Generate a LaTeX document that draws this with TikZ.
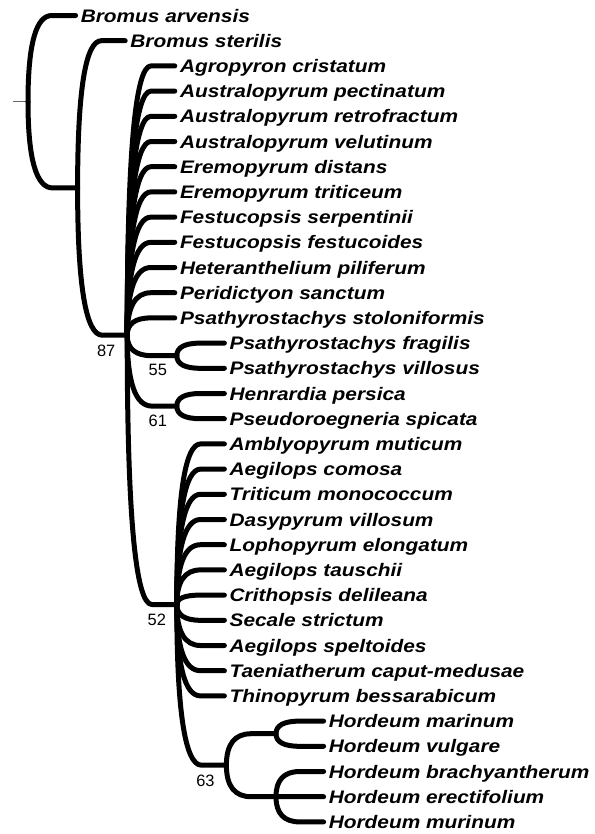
\documentclass[tikz,border=0pt]{standalone}
\usepackage{fontspec}
\usetikzlibrary{calc}
\newfontfamily\taxfont{Liberation Sans}[FakeStretch=1.15]
\newfontfamily\bsfont{Liberation Sans}
\newcommand\treeedge[2]{\draw[brline] (#1) .. controls ($(#1)!0.6667!(#1|-#2)$) and ($(#1|-#2)!0.1667!(#2)$) .. ($(#1|-#2)!0.5!(#2)$) -- (#2);}
\begin{document}
\begin{tikzpicture}[x=1bp,y=-1bp,
  brline/.style={line width=5bp,line cap=round,line join=round,black},
  taxon/.style={anchor=west,inner xsep=5bp,inner ysep=0pt,text height=13bp,text depth=0pt,
    font=\taxfont\bfseries\itshape\fontsize{18.2}{20}\selectfont},
  bsl/.style={inner sep=0pt,font=\bsfont\fontsize{16.5}{18}\selectfont}]
\useasboundingbox (0,0) rectangle (595,834);
% leaves
\foreach \i/\L/\nm in {0/1/Bromus arvensis,1/2/Bromus sterilis,2/3/Agropyron cristatum,
  3/3/Australopyrum pectinatum,4/3/Australopyrum retrofractum,5/3/Australopyrum velutinum,
  6/3/Eremopyrum distans,7/3/Eremopyrum triticeum,8/3/Festucopsis serpentinii,
  9/3/Festucopsis festucoides,10/3/Heteranthelium piliferum,11/3/Peridictyon sanctum,
  12/3/Psathyrostachys stoloniformis,13/4/Psathyrostachys fragilis,14/4/Psathyrostachys villosus,
  15/4/Henrardia persica,16/4/Pseudoroegneria spicata,17/4/Amblyopyrum muticum,
  18/4/Aegilops comosa,19/4/Triticum monococcum,20/4/Dasypyrum villosum,
  21/4/Lophopyrum elongatum,22/4/Aegilops tauschii,23/4/Crithopsis delileana,
  24/4/Secale strictum,25/4/Aegilops speltoides,26/4/Taeniatherum caput-medusae,
  27/4/Thinopyrum bessarabicum,28/6/Hordeum marinum,29/6/Hordeum vulgare,
  30/6/Hordeum brachyantherum,31/6/Hordeum erectifolium,32/6/Hordeum murinum}{
  \coordinate (t\i) at ({28+49.6*\L-2},{15.5+25.2*\i});
  \node[taxon] (l\i) at (t\i) {\nm};
}
% internal nodes
\coordinate (stub) at (13,101.73);
\coordinate (root) at (28,101.73);
\coordinate (n2) at (77.6,187.96);
\coordinate (n87) at (127.2,335.23);
\coordinate (n55) at (176.8,355.7);
\coordinate (n61) at (176.8,406.1);
\coordinate (n52) at (176.8,604.55);
\coordinate (n63) at (226.4,765.2);
\coordinate (nA) at (276,733.7);
\coordinate (nB) at (276,796.7);
\draw[black!60,line width=1.2bp] (stub) -- (root);
% edges
\treeedge{root}{t0}
\treeedge{root}{n2}
\treeedge{n2}{t1}
\treeedge{n2}{n87}
\foreach \i in {2,...,12}{\treeedge{n87}{t\i}}
\treeedge{n87}{n55}
\treeedge{n87}{n61}
\treeedge{n87}{n52}
\treeedge{n55}{t13}
\treeedge{n55}{t14}
\treeedge{n61}{t15}
\treeedge{n61}{t16}
\foreach \i in {17,...,27}{\treeedge{n52}{t\i}}
\treeedge{n52}{n63}
\treeedge{n63}{nA}
\treeedge{n63}{nB}
\treeedge{nA}{t28}
\treeedge{nA}{t29}
\treeedge{nB}{t30}
\treeedge{nB}{t31}
\treeedge{nB}{t32}
% support values
\node[bsl] (b87) at ($(n87)+(-21,16)$) {87};
\node[bsl] (b55) at ($(n55)+(-19,14)$) {55};
\node[bsl] (b61) at ($(n61)+(-19,15)$) {61};
\node[bsl] (b52) at ($(n52)+(-20,15)$) {52};
\node[bsl] (b63) at ($(n63)+(-21,16)$) {63};
\end{tikzpicture}
\end{document}
